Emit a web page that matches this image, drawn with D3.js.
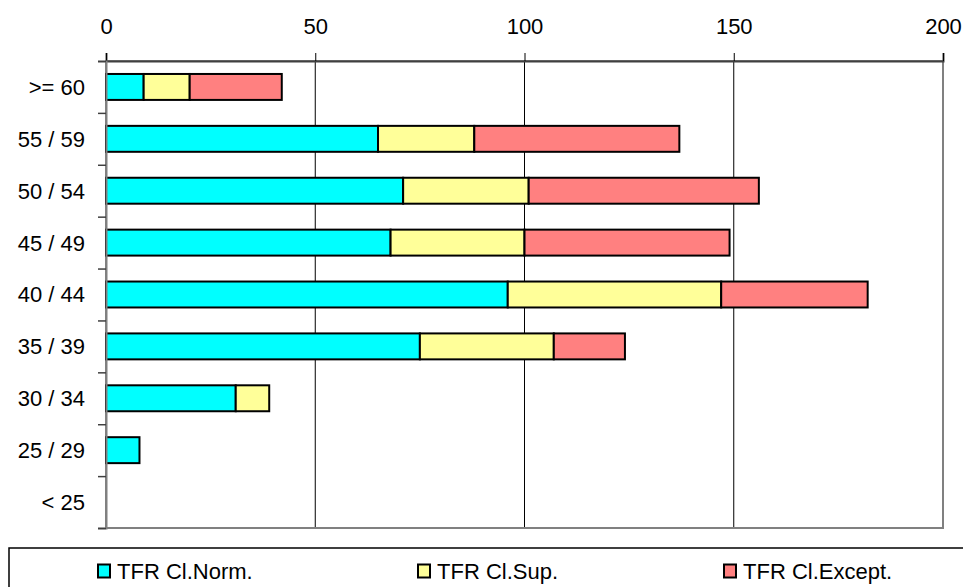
<!DOCTYPE html>
<html lang="en">
<head>
	<meta charset="utf-8">
	<script src="https://d3js.org/d3.v7.min.js"></script>
	<style type="text/css">
		body { margin: 0; background: #fff; }
		text { font-family: "Liberation Sans", Arial, sans-serif; }
	</style>
</head>
<body>
	<script type="text/javascript">

		let w = 963;
		let h = 587;

		// age classes, top to bottom
		let categories = [">= 60", "55 / 59", "50 / 54", "45 / 49", "40 / 44", "35 / 39", "30 / 34", "25 / 29", "< 25"];
		let seriesNames = ["TFR Cl.Norm.", "TFR Cl.Sup.", "TFR Cl.Except."];
		let normValues = [9, 65, 71, 68, 96, 75, 31, 8, 0];
		let supValues = [11, 23, 30, 32, 51, 32, 8, 0, 0];
		let exceptValues = [22, 49, 55, 49, 35, 17, 0, 0, 0];
		let xTicks = [0, 50, 100, 150, 200];
		let colors = ["#00ffff", "#ffff99", "#ff8080"];

		let plotLeft = 106, plotRight = 943, plotTop = 61, plotBottom = 528;

		let rows = categories.map(function (c, i) {
			return { cat: c, Norm: normValues[i], Sup: supValues[i], Except: exceptValues[i] };
		});
		let stack = d3.stack().keys(["Norm", "Sup", "Except"])(rows);

		let xScale = d3.scaleLinear().domain([0, 200]).range([plotLeft, plotRight]);
		let yScale = d3.scaleBand().domain(categories).range([plotTop, plotBottom]).paddingInner(0.5).paddingOuter(0.25);

		let svg = d3.select("body").append("svg")
			.attr("width", w)
			.attr("height", h);

		// gridlines
		svg.selectAll("line.grid")
			.data(xTicks.slice(1, -1))
			.enter()
			.append("line")
			.attr("class", "grid")
			.attr("x1", function (d) { return xScale(d); })
			.attr("x2", function (d) { return xScale(d); })
			.attr("y1", plotTop)
			.attr("y2", plotBottom)
			.attr("stroke", "#000")
			.attr("stroke-width", 1);

		// plot frame (gray)
		svg.append("rect")
			.attr("x", plotLeft)
			.attr("y", plotTop)
			.attr("width", plotRight - plotLeft)
			.attr("height", plotBottom - plotTop)
			.attr("fill", "none")
			.attr("stroke", "#808080")
			.attr("stroke-width", 2);

		// bars
		svg.selectAll("g.series")
			.data(stack)
			.enter()
			.append("g")
			.attr("class", "series")
			.attr("fill", function (d, i) { return colors[i]; })
			.selectAll("rect")
			.data(function (d) { return d.filter(function (s) { return s[1] > s[0]; }); })
			.enter()
			.append("rect")
			.attr("x", function (d) { return xScale(d[0]); })
			.attr("y", function (d) { return yScale(d.data.cat); })
			.attr("width", function (d) { return xScale(d[1]) - xScale(d[0]); })
			.attr("height", yScale.bandwidth())
			.attr("stroke", "#000")
			.attr("stroke-width", 2);

		// top axis
		let xAxis = d3.axisTop(xScale).tickValues(xTicks).tickSize(8).tickPadding(19);
		let gx = svg.append("g")
			.attr("transform", "translate(0," + plotTop + ")")
			.call(xAxis);
		gx.select(".domain").attr("stroke", "#404040").attr("stroke-width", 2);
		gx.selectAll(".tick line").attr("stroke", "#000");
		gx.selectAll("text").attr("font-size", "22px").attr("fill", "#000")
			.style("font-family", "'Liberation Sans', Arial, sans-serif");

		// left axis: ticks between categories
		let yTickScale = d3.scaleLinear().domain([0, categories.length]).range([plotTop, plotBottom]);
		svg.append("g")
			.attr("transform", "translate(" + plotLeft + ",0)")
			.call(d3.axisLeft(yTickScale).ticks(categories.length).tickSize(8).tickFormat(""))
			.call(function (g) {
				g.select(".domain").attr("stroke", "#808080").attr("stroke-width", 2);
				g.selectAll(".tick line").attr("stroke", "#404040").attr("stroke-width", 1.5);
			});

		svg.selectAll("text.cat")
			.data(categories)
			.enter()
			.append("text")
			.attr("class", "cat")
			.attr("x", 85)
			.attr("y", function (d) { return yScale(d) + yScale.bandwidth() / 2; })
			.attr("dy", "0.36em")
			.attr("text-anchor", "end")
			.attr("font-size", "22px")
			.text(function (d) { return d; });

		// legend
		svg.append("rect")
			.attr("x", 9)
			.attr("y", 548)
			.attr("width", 960)
			.attr("height", 45)
			.attr("fill", "#fff")
			.attr("stroke", "#000")
			.attr("stroke-width", 1.5);

		let legendX = [97, 417, 723];
		let legend = svg.selectAll("g.legend")
			.data(seriesNames)
			.enter()
			.append("g")
			.attr("class", "legend")
			.attr("transform", function (d, i) { return "translate(" + legendX[i] + ",571)"; });

		legend.append("rect")
			.attr("x", 1)
			.attr("y", -6.5)
			.attr("width", 12)
			.attr("height", 13)
			.attr("fill", function (d, i) { return colors[i]; })
			.attr("stroke", "#000")
			.attr("stroke-width", 2);

		legend.append("text")
			.attr("x", 20)
			.attr("dy", "0.36em")
			.attr("font-size", "22px")
			.text(function (d) { return d; });

	</script>
</body>
</html>
